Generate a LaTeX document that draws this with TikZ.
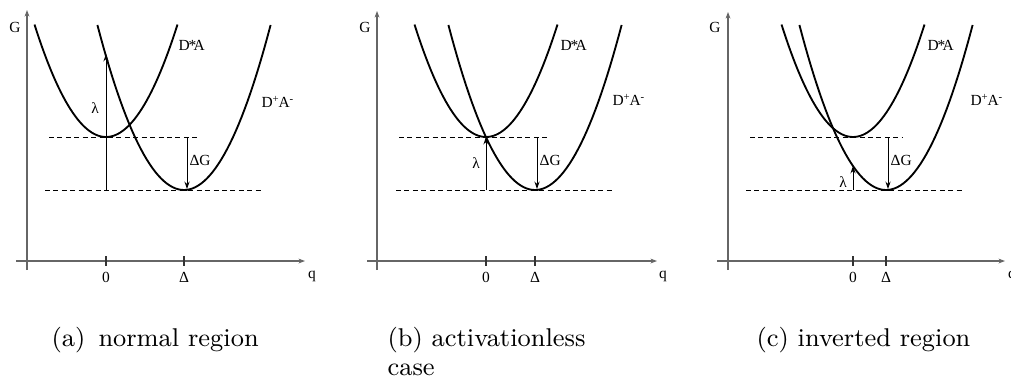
\documentclass[tikz,border=0pt]{standalone}
\usepackage{fontspec}
\newfontfamily\tm{Liberation Serif}
\usetikzlibrary{arrows.meta}
\begin{document}
\begin{tikzpicture}[x=0.35pt,y=-0.35pt,
  curve/.style={line width=0.65pt,black},
  axisline/.style={line width=0.55pt,black!60,-{Stealth[length=2.3pt,width=1.7pt]}},
  guide/.style={line width=0.35pt,dash pattern=on 1.75pt off 1.2pt},
  gaparrow/.style={line width=0.35pt,-{Stealth[length=2.6pt,width=1.8pt]}},
  tickmark/.style={line width=0.4pt,black!80},
  lbl/.style={font=\tm\fontsize{5.4}{6}\selectfont,inner sep=0pt},
  captext/.style={font=\small,inner sep=0pt,anchor=base west}]
\useasboundingbox (0,0) rectangle (1011,385);

% ---------- panel (a) ----------
\coordinate (a-vb) at (27,270); \coordinate (a-vt) at (27,10);
\coordinate (a-hl) at (16,261); \coordinate (a-hr) at (305,261);
\draw[axisline] (a-vb) -- (a-vt);
\draw[axisline] (a-hl) -- (a-hr);
\draw[tickmark] (106,256) -- (106,266);
\draw[tickmark] (184,256) -- (184,266);
\node[lbl] (a-G) at (15,27) {G};
\node[lbl] (a-q) at (312,276) {q};
\node[lbl] (a-zero) at (106,277) {0};
\node[lbl] (a-delta) at (184,277) {Δ};
\draw[guide] (49,137) -- (200,137);
\draw[guide] (45,190) -- (263,190);
\draw[curve,domain=-71.5:71.5,samples=61] plot ({106+\x},{137-0.022*\x*\x});
\draw[curve,domain=-86.6:86.6,samples=61] plot ({184+\x},{190-0.022*\x*\x});
\coordinate (a-l0) at (106,190); \coordinate (a-l1) at (106,54);
\draw[gaparrow] (a-l0) -- (a-l1);
\node[lbl] (a-lam) at (95,108) {λ};
\coordinate (a-g0) at (187,137); \coordinate (a-g1) at (187,189);
\draw[gaparrow] (a-g0) -- (a-g1);
\node[lbl,anchor=west] (a-dG) at (189,160) {ΔG};
\node[lbl,anchor=west] (a-DA) at (178,45) {D\kern-0.4pt*\kern-0.9pt A};
\node[lbl,anchor=west] (a-DpAm) at (261,102) {D\textsuperscript{+}\kern-0.6pt A\textsuperscript{-}};
\node[captext] (a-cap) at (51,346) {(a)\hskip 4.6pt normal region};

% ---------- panel (b) ----------
\coordinate (b-vb) at (377,270); \coordinate (b-vt) at (377,11);
\coordinate (b-hl) at (367,261); \coordinate (b-hr) at (657,261);
\draw[axisline] (b-vb) -- (b-vt);
\draw[axisline] (b-hl) -- (b-hr);
\draw[tickmark] (486,256) -- (486,266);
\draw[tickmark] (535,256) -- (535,266);
\node[lbl] (b-G) at (365,27) {G};
\node[lbl] (b-q) at (663,276) {q};
\node[lbl] (b-zero) at (486,277) {0};
\node[lbl] (b-delta) at (535,277) {Δ};
\draw[guide] (399,137) -- (550,137);
\draw[guide] (396,190) -- (615,190);
\draw[curve,domain=-71.5:71.5,samples=61] plot ({486+\x},{137-0.022*\x*\x});
\draw[curve,domain=-86.6:86.6,samples=61] plot ({535+\x},{190-0.022*\x*\x});
\coordinate (b-l0) at (486,190); \coordinate (b-l1) at (486,137);
\draw[gaparrow] (b-l0) -- (b-l1);
\node[lbl] (b-lam) at (476,163) {λ};
\coordinate (b-g0) at (537,137); \coordinate (b-g1) at (537,189);
\draw[gaparrow] (b-g0) -- (b-g1);
\node[lbl,anchor=west] (b-dG) at (539,160) {ΔG};
\node[lbl,anchor=west] (b-DA) at (560,45) {D\kern-0.4pt*\kern-0.9pt A};
\node[lbl,anchor=west] (b-DpAm) at (612,100) {D\textsuperscript{+}\kern-0.6pt A\textsuperscript{-}};
\node[captext] (b-cap) at (387,346) {(b) activationless};
\node[captext] (b-cap2) at (387,375) {case};

% ---------- panel (c) ----------
\coordinate (c-vb) at (728,270); \coordinate (c-vt) at (728,12);
\coordinate (c-hl) at (717,261); \coordinate (c-hr) at (1005,261);
\draw[axisline] (c-vb) -- (c-vt);
\draw[axisline] (c-hl) -- (c-hr);
\draw[tickmark] (853,256) -- (853,266);
\draw[tickmark] (886,256) -- (886,266);
\node[lbl] (c-G) at (715,27) {G};
\node[lbl] (c-q) at (1012,276) {q};
\node[lbl] (c-zero) at (853,277) {0};
\node[lbl] (c-delta) at (886,277) {Δ};
\draw[guide] (750,137) -- (902,137);
\draw[guide] (746,190) -- (965,190);
\draw[curve,domain=-71.5:71.5,samples=61] plot ({853+\x},{137-0.022*\x*\x});
\draw[curve,domain=-86.6:86.6,samples=61] plot ({886+\x},{190-0.022*\x*\x});
\coordinate (c-l0) at (853,190); \coordinate (c-l1) at (853,166);
\draw[gaparrow] (c-l0) -- (c-l1);
\node[lbl] (c-lam) at (843,182) {λ};
\coordinate (c-g0) at (888,137); \coordinate (c-g1) at (888,189);
\draw[gaparrow] (c-g0) -- (c-g1);
\node[lbl,anchor=west] (c-dG) at (890,160) {ΔG};
\node[lbl,anchor=west] (c-DA) at (927,45) {D\kern-0.4pt*\kern-0.9pt A};
\node[lbl,anchor=west] (c-DpAm) at (970,100) {D\textsuperscript{+}\kern-0.6pt A\textsuperscript{-}};
\node[captext] (c-cap) at (756,346) {(c) inverted region};
\end{tikzpicture}
\end{document}
